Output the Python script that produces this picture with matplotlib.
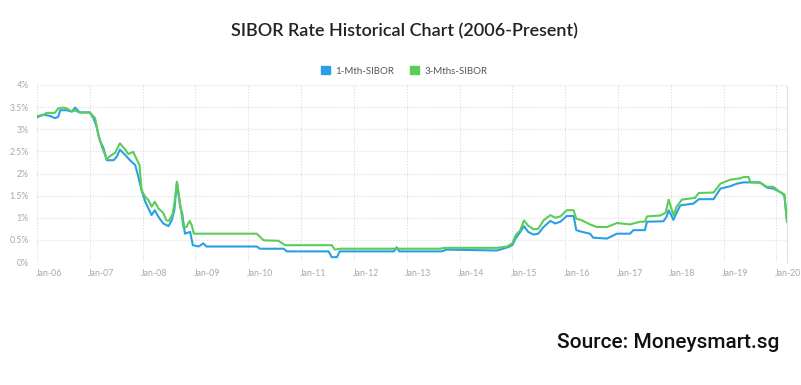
import matplotlib
matplotlib.use("Agg")
import matplotlib.pyplot as plt
from matplotlib.patches import Patch
from matplotlib.transforms import ScaledTranslation

# ---- data (decimal years, % rate) ----
years = list(range(2006, 2021))
tick_labels = ["Jan-%02d" % (y % 100) for y in years]
y_ticks = [0, 0.5, 1, 1.5, 2, 2.5, 3, 3.5, 4]
y_tick_labels = ["0%", "0.5%", "1%", "1.5%", "2%", "2.5%", "3%", "3.5%", "4%"]

m1_t = [2006.0, 2006.12, 2006.25, 2006.34, 2006.40, 2006.44, 2006.56, 2006.66, 2006.72, 2006.81,
        2007.0, 2007.07, 2007.13, 2007.19, 2007.26, 2007.32, 2007.45, 2007.51, 2007.57, 2007.67,
        2007.76, 2007.86, 2007.92, 2007.98, 2008.05, 2008.11, 2008.17, 2008.23, 2008.30, 2008.39,
        2008.49, 2008.55, 2008.60, 2008.65, 2008.71, 2008.75, 2008.80, 2008.90, 2008.95, 2009.06,
        2009.15, 2009.21, 2010.16, 2010.22, 2010.67, 2010.73, 2011.52, 2011.58, 2011.68, 2011.73,
        2012.76, 2012.81, 2012.86, 2013.66, 2013.76, 2014.71, 2014.93, 2015.0, 2015.06, 2015.15,
        2015.22, 2015.30, 2015.40, 2015.49, 2015.59, 2015.72, 2015.81, 2015.91, 2016.03, 2016.16,
        2016.21, 2016.32, 2016.47, 2016.53, 2016.79, 2016.98, 2017.23, 2017.29, 2017.51, 2017.55,
        2017.86, 2017.92, 2017.96, 2018.0, 2018.05, 2018.10, 2018.18, 2018.43, 2018.53, 2018.81,
        2018.94, 2019.12, 2019.25, 2019.38, 2019.69, 2019.82, 2019.94, 2020.07, 2020.15, 2020.20]
m1_v = [3.27, 3.33, 3.30, 3.25, 3.28, 3.43, 3.43, 3.40, 3.49, 3.38,
        3.38, 3.25, 3.05, 2.75, 2.57, 2.30, 2.30, 2.38, 2.54, 2.42,
        2.30, 2.19, 1.92, 1.62, 1.36, 1.21, 1.06, 1.17, 1.02, 0.87,
        0.81, 0.94, 1.17, 1.81, 1.25, 1.09, 0.64, 0.68, 0.38, 0.35,
        0.42, 0.35, 0.35, 0.30, 0.30, 0.24, 0.24, 0.11, 0.11, 0.24,
        0.24, 0.33, 0.24, 0.24, 0.28, 0.26, 0.34, 0.38, 0.53, 0.68,
        0.81, 0.68, 0.62, 0.64, 0.79, 0.93, 0.87, 0.91, 1.04, 1.04,
        0.72, 0.68, 0.64, 0.55, 0.53, 0.64, 0.64, 0.72, 0.72, 0.91,
        0.92, 1.02, 1.17, 1.08, 0.95, 1.09, 1.28, 1.32, 1.42, 1.42,
        1.66, 1.71, 1.77, 1.80, 1.80, 1.68, 1.66, 1.58, 1.51, 0.92]

m3_t = [2006.0, 2006.12, 2006.18, 2006.34, 2006.40, 2006.50, 2006.56, 2006.66, 2006.72, 2006.81,
        2007.0, 2007.10, 2007.16, 2007.23, 2007.32, 2007.38, 2007.48, 2007.57, 2007.67, 2007.73,
        2007.82, 2007.88, 2007.94, 2007.98, 2008.05, 2008.11, 2008.17, 2008.23, 2008.30, 2008.39,
        2008.45, 2008.50, 2008.57, 2008.61, 2008.65, 2008.71, 2008.77, 2008.83, 2008.89, 2008.93,
        2008.97, 2010.16, 2010.29, 2010.57, 2010.70, 2011.58, 2011.64, 2011.74, 2013.63, 2013.72,
        2014.71, 2014.90, 2015.0, 2015.06, 2015.15, 2015.22, 2015.30, 2015.40, 2015.49, 2015.59,
        2015.72, 2015.81, 2015.91, 2016.03, 2016.16, 2016.21, 2016.32, 2016.47, 2016.60, 2016.79,
        2016.98, 2017.23, 2017.42, 2017.51, 2017.55, 2017.80, 2017.90, 2017.96, 2018.0, 2018.05,
        2018.11, 2018.21, 2018.46, 2018.53, 2018.81, 2018.94, 2019.12, 2019.31, 2019.38, 2019.47,
        2019.51, 2019.69, 2019.82, 2019.94, 2020.07, 2020.15, 2020.20]
m3_v = [3.30, 3.32, 3.37, 3.37, 3.47, 3.49, 3.47, 3.40, 3.42, 3.38,
        3.38, 3.25, 2.87, 2.60, 2.32, 2.39, 2.47, 2.68, 2.54, 2.44,
        2.49, 2.34, 2.19, 1.62, 1.47, 1.40, 1.25, 1.36, 1.21, 1.11,
        0.94, 0.93, 1.09, 1.40, 1.81, 1.32, 0.79, 0.79, 0.93, 0.83,
        0.64, 0.64, 0.49, 0.48, 0.38, 0.38, 0.28, 0.30, 0.30, 0.32,
        0.32, 0.35, 0.42, 0.60, 0.72, 0.94, 0.82, 0.74, 0.75, 0.94,
        1.06, 1.00, 1.03, 1.17, 1.17, 0.98, 0.94, 0.85, 0.79, 0.79,
        0.88, 0.85, 0.91, 0.91, 1.03, 1.05, 1.11, 1.41, 1.25, 1.06,
        1.25, 1.41, 1.45, 1.56, 1.57, 1.77, 1.86, 1.89, 1.92, 1.92,
        1.80, 1.79, 1.70, 1.70, 1.58, 1.53, 0.91]

series_names = ["1-Mth-SIBOR", "3-Mths-SIBOR"]
colors = ["#2b9fe6", "#5ccc58"]

# ---- figure ----
fig = plt.figure(figsize=(8.01, 3.85), dpi=100)
fig.patch.set_facecolor("white")
ax = fig.add_axes([37/801, 123/385, 750/801, 177/385])

ax.plot(m1_t, m1_v, color=colors[0], lw=1.5, solid_joinstyle="round", zorder=3)
ax.plot(m3_t, m3_v, color=colors[1], lw=1.5, solid_joinstyle="round", zorder=4)

ax.set_xlim(2006.0, 2020.2)
ax.set_ylim(0, 4)
ax.set_xticks(years)
ax.set_xticklabels(tick_labels, ha="left")
ax.set_yticks(y_ticks)
ax.set_yticklabels(y_tick_labels)
ax.tick_params(axis="both", length=0, colors="#a8a8a8", labelsize=6.3)
ax.tick_params(axis="x", pad=5)
ax.tick_params(axis="y", pad=6)
shift = ScaledTranslation(-1.5/100, 0, fig.dpi_scale_trans)
for lab in ax.get_xticklabels():
    lab.set_family("Lato")
    lab.set_transform(lab.get_transform() + shift)
for lab in ax.get_yticklabels():
    lab.set_family("Lato")

ax.grid(True, color="#dcdcdc", linestyle=(0, (1, 1.5)), linewidth=0.8)
for side in ["top", "left", "bottom"]:
    ax.spines[side].set_visible(False)
ax.spines["right"].set_color("#dcdcdc")
ax.spines["right"].set_linestyle((0, (1, 1.5)))
ax.spines["right"].set_linewidth(0.8)
ax.set_axisbelow(True)

fig.text(0.505, 1 - 31/385, "SIBOR Rate Historical Chart (2006-Present)",
         ha="center", va="center", fontsize=13, fontweight="semibold",
         family="Lato", color="#222222")

handles = [Patch(facecolor=c, edgecolor=c) for c in colors]
fig.legend(handles, series_names, loc="center", bbox_to_anchor=(0.505, 1 - 71/385),
           ncol=2, frameon=False, handlelength=0.9, handleheight=0.9,
           handletextpad=0.6, columnspacing=1.6, labelcolor="#555555",
           prop={"family": "Lato", "size": 7})

fig.text(779/801, 1 - 342/385, "Source: Moneysmart.sg", ha="right", va="center",
         fontsize=15, fontweight="medium", family="Roboto", color="#111111")

fig.savefig("out.png", dpi=100, facecolor="white")
